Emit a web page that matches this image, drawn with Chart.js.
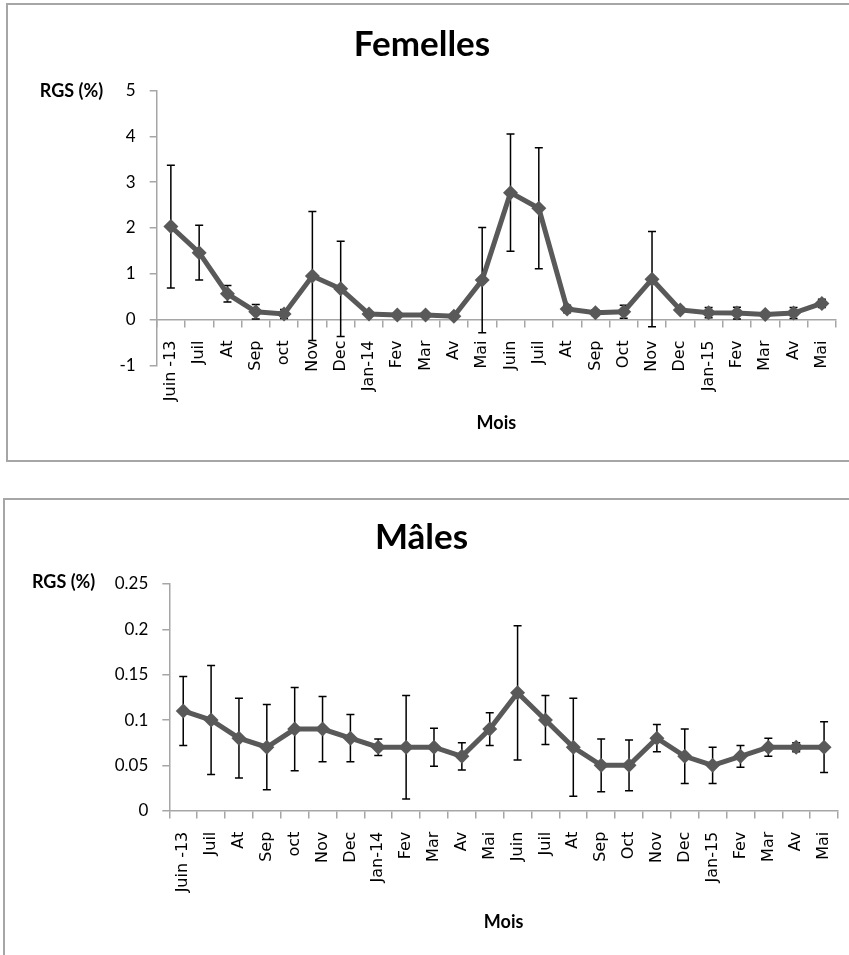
<!DOCTYPE html>
<html>
<head>
<meta charset="utf-8">
<title>RGS Femelles / Mâles</title>
<script src="https://cdn.jsdelivr.net/npm/chart.js@4.4.1/dist/chart.umd.min.js"></script>
<style>
    html, body { margin: 0; padding: 0; background: #fff; overflow: hidden; width: 849px; height: 955px; }
    .box { position: absolute; border: 2px solid #a6a6a6; background: #fff; }
    #boxFemelles { left: 6px; top: 3px; width: 845px; height: 455px; }
    #boxMales { left: 3px; top: 498px; width: 850px; height: 470px; }
    canvas { display: block; }
</style>
</head>
<body>
<div class="box" id="boxFemelles"><canvas id="chartFemelles" width="845" height="455"></canvas></div>
<div class="box" id="boxMales"><canvas id="chartMales" width="850" height="460"></canvas></div>

<script>
// ==========================================
// DATA
// ==========================================

const mois = [
    'Juin -13', 'Juil', 'At', 'Sep', 'oct', 'Nov', 'Dec', 'Jan-14', 'Fev', 'Mar', 'Av', 'Mai',
    'Juin', 'Juil', 'At', 'Sep', 'Oct', 'Nov', 'Dec', 'Jan-15', 'Fev', 'Mar', 'Av', 'Mai'
];

// RGS moyen (%) - femelles
const rgsFemelles = [2.03, 1.46, 0.56, 0.17, 0.12, 0.95, 0.67, 0.12, 0.10, 0.10, 0.07, 0.86,
                     2.77, 2.43, 0.23, 0.15, 0.17, 0.88, 0.21, 0.15, 0.14, 0.11, 0.14, 0.35];
// ecart-type - femelles
const ecartFemelles = [1.34, 0.60, 0.18, 0.16, 0.10, 1.41, 1.04, 0.05, 0.05, 0.05, 0.04, 1.15,
                       1.28, 1.32, 0.08, 0.06, 0.14, 1.04, 0.05, 0.11, 0.13, 0.04, 0.12, 0.09];

// RGS moyen (%) - mâles
const rgsMales = [0.11, 0.10, 0.08, 0.07, 0.09, 0.09, 0.08, 0.07, 0.07, 0.07, 0.06, 0.09,
                  0.13, 0.10, 0.07, 0.05, 0.05, 0.08, 0.06, 0.05, 0.06, 0.07, 0.07, 0.07];
// ecart-type - mâles
const ecartMales = [0.038, 0.060, 0.044, 0.047, 0.046, 0.036, 0.026, 0.009, 0.057, 0.021, 0.015, 0.018,
                    0.074, 0.027, 0.054, 0.029, 0.028, 0.015, 0.030, 0.020, 0.012, 0.010, 0.005, 0.028];

// axes Y
const yTicksFemelles = { min: -1, max: 5, step: 1 };
const yTicksMales = { min: 0, max: 0.25, step: 0.05 };

// ==========================================
// PLUGINS
// ==========================================

// barres d'erreur (dessinées sous la courbe)
const errorBarsPlugin = {
    id: 'errorBars',
    beforeDatasetsDraw(chart) {
        const ds = chart.data.datasets[0];
        const meta = chart.getDatasetMeta(0);
        const yScale = chart.scales.y;
        const ctx = chart.ctx;
        ctx.save();
        ctx.strokeStyle = '#000';
        ctx.lineWidth = 1.5;
        meta.data.forEach(function(pt, i) {
            const v = ds.data[i];
            const e = ds.errors[i];
            const top = yScale.getPixelForValue(v + e);
            const bot = yScale.getPixelForValue(v - e);
            ctx.beginPath();
            ctx.moveTo(pt.x, top);
            ctx.lineTo(pt.x, bot);
            ctx.moveTo(pt.x - 4, top);
            ctx.lineTo(pt.x + 4, top);
            ctx.moveTo(pt.x - 4, bot);
            ctx.lineTo(pt.x + 4, bot);
            ctx.stroke();
        });
        ctx.restore();
    }
};

// titre horizontal "RGS (%)" en haut a gauche
const yLabelPlugin = {
    id: 'yLabel',
    afterDraw(chart, args, opts) {
        const ctx = chart.ctx;
        ctx.save();
        ctx.font = 'bold 18px Lato';
        ctx.fillStyle = '#000';
        ctx.textAlign = 'center';
        ctx.textBaseline = 'middle';
        ctx.fillText(opts.text, opts.x, opts.y);
        ctx.restore();
    }
};

/**
 * Format des graduations : 0.1 et non 0.10
 */
function formatTick(value) {
    return String(parseFloat(value.toFixed(2)));
}

// ==========================================
// CHART
// ==========================================

function createRgsChart(canvasId, titre, values, errors, yTicks, geo) {
    const ctx = document.getElementById(canvasId).getContext('2d');
    const axisColor = '#a6a6a6';

    return new Chart(ctx, {
        type: 'line',
        data: {
            labels: mois,
            datasets: [{
                data: values,
                errors: errors,
                borderColor: '#595959',
                backgroundColor: '#595959',
                borderWidth: 5,
                pointStyle: 'rectRot',
                pointRadius: 7.5,
                pointBackgroundColor: '#595959',
                pointBorderColor: '#595959',
                pointBorderWidth: 0,
                tension: 0,
                clip: false
            }]
        },
        options: {
            responsive: false,
            animation: false,
            layout: {
                padding: { left: 0, right: geo.padRight, top: 0, bottom: geo.padBottom }
            },
            plugins: {
                legend: { display: false },
                tooltip: { enabled: false },
                title: {
                    display: true,
                    text: titre,
                    color: '#000',
                    font: { family: 'Lato', size: 35, weight: 'bold' },
                    padding: { top: geo.titleTop, bottom: geo.titleBottom }
                },
                yLabel: { text: 'RGS (%)', x: geo.rgsX, y: geo.rgsY }
            },
            scales: {
                x: {
                    type: 'category',
                    position: { y: 0 },
                    offset: true,
                    grid: {
                        offset: true,
                        drawOnChartArea: false,
                        drawTicks: true,
                        tickLength: 7,
                        color: axisColor,
                        lineWidth: 1.5
                    },
                    border: { color: axisColor, width: 1.5 },
                    ticks: {
                        autoSkip: false,
                        minRotation: 90,
                        maxRotation: 90,
                        padding: 14,
                        color: '#000',
                        font: { family: "'DejaVu Sans'", size: 16 }
                    },
                    title: {
                        display: true,
                        text: 'Mois',
                        color: '#000',
                        font: { family: 'Lato', size: 18, weight: 'bold' },
                        padding: { top: geo.moisTop, bottom: 0 }
                    },
                    afterFit: function(scale) {
                        // les libellés verticaux ne doivent pas rétrécir la zone de tracé
                        scale.paddingLeft = 0;
                        scale.paddingRight = 0;
                    }
                },
                y: {
                    min: yTicks.min,
                    max: yTicks.max,
                    grid: {
                        drawOnChartArea: false,
                        drawTicks: true,
                        tickLength: 7,
                        color: axisColor,
                        lineWidth: 1.5
                    },
                    border: { color: axisColor, width: 1.5 },
                    ticks: {
                        stepSize: yTicks.step,
                        padding: 14,
                        color: '#000',
                        font: { family: 'Lato', size: 17 },
                        callback: formatTick
                    },
                    afterFit: function(scale) {
                        scale.width = geo.yWidth;
                    }
                }
            }
        },
        plugins: [errorBarsPlugin, yLabelPlugin]
    });
}

// ==========================================
// INITIALIZATION
// ==========================================

createRgsChart('chartFemelles', 'Femelles', rgsFemelles, ecartFemelles, yTicksFemelles, {
    yWidth: 148.7, padRight: 17, padBottom: 94.7,
    titleTop: 19, titleBottom: 24.5, moisTop: -3,
    rgsX: 63.5, rgsY: 86.5
});

createRgsChart('chartMales', 'Mâles', rgsMales, ecartMales, yTicksMales, {
    yWidth: 164.3, padRight: 17, padBottom: 149.3,
    titleTop: 17, titleBottom: 25, moisTop: 5,
    rgsX: 58.6, rgsY: 82
});
</script>
</body>
</html>
